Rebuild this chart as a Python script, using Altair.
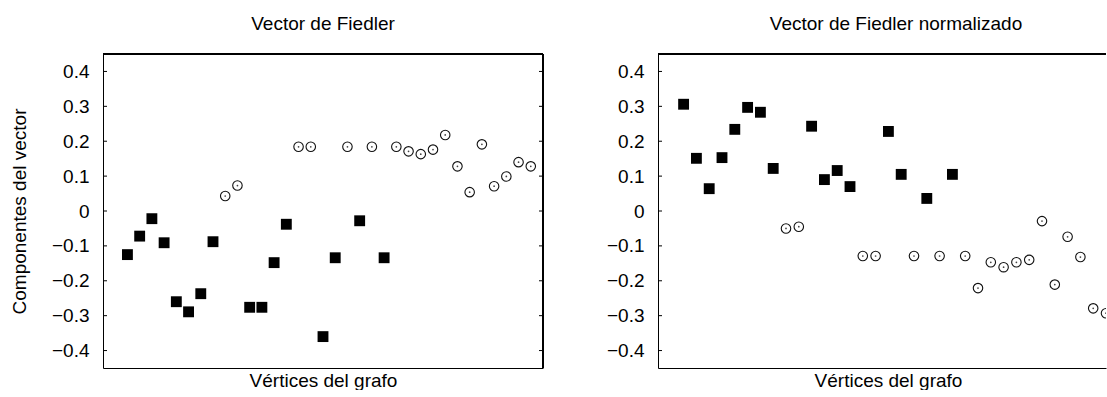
import altair as alt
import pandas as pd

# Zachary karate club: 34 vertices, Fiedler vector components
vertices = list(range(1, 35))

fiedler = [-0.125, -0.072, -0.022, -0.091, -0.260, -0.289, -0.237, -0.088, 0.043, 0.073,
           -0.276, -0.276, -0.148, -0.038, 0.184, 0.184, -0.360, -0.134, 0.184, -0.028,
           0.184, -0.134, 0.184, 0.171, 0.163, 0.176, 0.218, 0.128, 0.054, 0.191,
           0.071, 0.099, 0.140, 0.128]

fiedler_norm = [0.306, 0.151, 0.064, 0.153, 0.234, 0.297, 0.283, 0.122, -0.050, -0.045,
                0.243, 0.090, 0.116, 0.070, -0.129, -0.129, 0.228, 0.105, -0.129, 0.036,
                -0.129, 0.105, -0.129, -0.221, -0.147, -0.161, -0.147, -0.140, -0.029, -0.211,
                -0.074, -0.132, -0.279, -0.293]

# community of each vertex (1 -> filled square, 2 -> open circle)
comunidad = [1, 1, 1, 1, 1, 1, 1, 1, 2, 2, 1, 1, 1, 1, 2, 2, 1, 1, 2, 1,
             2, 1, 2, 2, 2, 2, 2, 2, 2, 2, 2, 2, 2, 2]

y_ticks = [-0.4, -0.3, -0.2, -0.1, 0.0, 0.1, 0.2, 0.3, 0.4]

FONT = "Liberation Sans"
H = 314


def panel(values, title, width, x_max, y_title, x_title_pos, title_dx):
    df = pd.DataFrame({"vertice": vertices, "valor": values, "comunidad": comunidad})
    ticks_df = pd.DataFrame({"valor": y_ticks})

    x_axis = alt.Axis(title="Vértices del grafo", labels=False, ticks=False, grid=False,
                      domainColor="black", domainWidth=1, titlePadding=3,
                      titleX=x_title_pos)
    if y_title:
        y_axis = alt.Axis(title=y_title, values=y_ticks, format=".1~f", ticks=False,
                          grid=False, domainColor="black", domainWidth=1,
                          labelPadding=14, titlePadding=22)
    else:
        y_axis = alt.Axis(title=None, values=y_ticks, format=".1~f", ticks=False,
                          grid=False, domainColor="black", domainWidth=1,
                          labelPadding=14)

    x_enc = alt.X("vertice:Q", scale=alt.Scale(domain=[-1, x_max], nice=False, zero=False),
                  axis=x_axis)
    y_enc = alt.Y("valor:Q", scale=alt.Scale(domain=[-0.45, 0.45], nice=False, zero=False),
                  axis=y_axis)

    squares = alt.Chart(df).transform_filter("datum.comunidad == 1").mark_point(
        shape="square", filled=True, size=118, color="black", opacity=1, clip=True
    ).encode(x=x_enc, y=y_enc)

    circles = alt.Chart(df).transform_filter("datum.comunidad == 2").mark_point(
        shape="circle", filled=False, size=90, stroke="#111111", strokeWidth=1.1,
        opacity=1, clip=True
    ).encode(x=x_enc, y=y_enc)

    dots = alt.Chart(df).transform_filter("datum.comunidad == 2").mark_point(
        shape="circle", filled=True, size=3, color="#444444", opacity=1, clip=True
    ).encode(x=x_enc, y=y_enc)

    # inward tick marks on the left and right edges of the frame
    tick_l = alt.Chart(ticks_df).mark_rule(color="black", strokeWidth=1).encode(
        y=y_enc, x=alt.value(0), x2=alt.value(4))
    tick_r = alt.Chart(ticks_df).mark_rule(color="black", strokeWidth=1).encode(
        y=y_enc, x=alt.value(width - 4), x2=alt.value(width))

    # frame: top and right edges
    frame_top = alt.Chart(ticks_df).mark_rule(color="black", strokeWidth=1).encode(
        x=alt.value(0), x2=alt.value(width), y=alt.value(0))
    frame_right = alt.Chart(ticks_df).mark_rule(color="black", strokeWidth=1).encode(
        x=alt.value(width), y=alt.value(0), y2=alt.value(H))

    layers = [squares, circles, dots, tick_l, frame_top]
    if x_max > 34.5:
        layers += [tick_r, frame_right]

    return alt.layer(*layers).properties(
        width=width, height=H,
        title=alt.TitleParams(title, fontSize=19, font=FONT, fontWeight="normal",
                              color="black", anchor="middle", offset=20, dx=title_dx),
    )


left = panel(fiedler, "Vector de Fiedler", 440, 35, "Componentes del vector", 220, 0)
right = panel(fiedler_norm, "Vector de Fiedler normalizado", 448, 34, None, 230, 14)

chart = alt.hconcat(left, right, spacing=62).properties(
    padding={"left": 10, "top": 14, "right": 0, "bottom": 0},
    background="white",
).configure_axis(
    labelFont=FONT, labelFontSize=19, labelColor="black",
    titleFont=FONT, titleFontSize=19, titleFontWeight="normal", titleColor="black",
).configure_view(strokeWidth=0)

chart.save("out.html", embed_options={"renderer": "svg", "actions": False})
